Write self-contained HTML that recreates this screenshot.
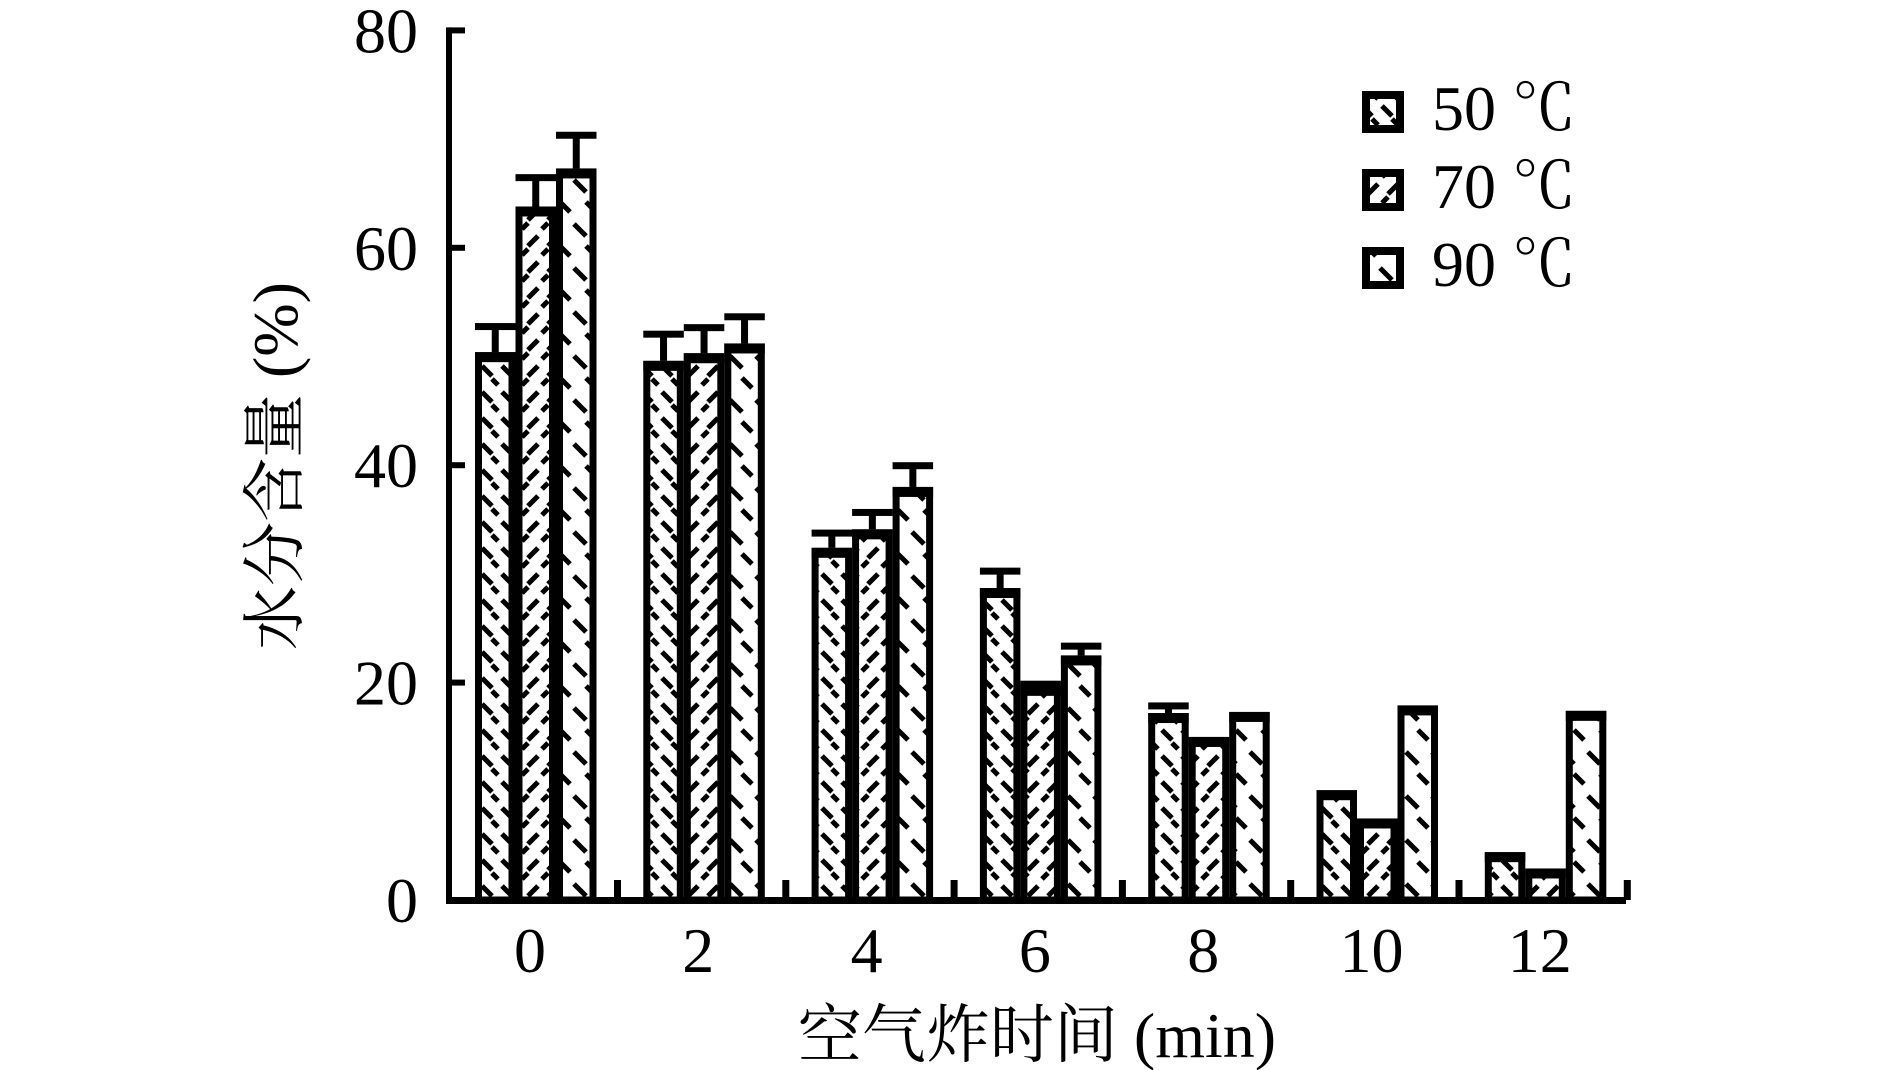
<!DOCTYPE html>
<html><head><meta charset="utf-8"><style>
html,body{margin:0;padding:0;background:#fff;}
svg{display:block;}
text{fill:#000;}
.num{font-family:"Liberation Serif","Noto Serif CJK SC",serif;font-size:64px;}
.ttl{font-family:"Liberation Serif","Noto Serif CJK SC",serif;font-size:64px;}
</style></head><body>
<svg id="chart" width="1890" height="1070" viewBox="0 0 1890 1070" xmlns="http://www.w3.org/2000/svg">
<defs>
<pattern id="p50" width="20" height="26" patternUnits="userSpaceOnUse">
<rect width="20" height="26" fill="#fff"/>
<path d="M2 2 L12 12 M12 15 L18 21" stroke="#000" stroke-width="5"/>
</pattern>
<pattern id="p70" width="20" height="26" patternUnits="userSpaceOnUse">
<rect width="20" height="26" fill="#fff"/>
<path d="M18 2 L8 12 M8 15 L2 21" stroke="#000" stroke-width="5"/>
</pattern>
<pattern id="p90" width="26" height="44" patternUnits="userSpaceOnUse">
<rect width="26" height="44" fill="#fff"/>
<path d="M2 4 L14 16 M14 26 L24 36" stroke="#000" stroke-width="5"/>
</pattern>
</defs>
<g id="bars"></g>
<g id="axes"></g>
<g id="legend"></g>
<text class="ttl" x="1037" y="1057" text-anchor="middle">空气炸时间 (min)</text>
<text class="ttl" transform="translate(297,466) rotate(-90)" text-anchor="middle">水分含量 (%)</text>
</svg>
<script>
const categories = ["0","2","4","6","8","10","12"];
const seriesNames = ["50 ℃","70 ℃","90 ℃"];
const s50 = [50.4, 49.6, 32.4, 28.7, 17.2, 10.1, 4.4];
const s70 = [63.8, 50.3, 34.1, 19.7, 15.0, 7.5, 2.9];
const s90 = [67.3, 51.2, 38.0, 22.5, 17.3, 17.9, 17.4];
const e50 = [2.4, 2.5, 1.4, 1.6, 0.7, 0, 0];
const e70 = [2.7, 2.4, 1.6, 0.2, 0, 0, 0];
const e90 = [3.1, 2.5, 2.0, 0.9, 0, 0, 0];
const yTicks = [0, 20, 40, 60, 80];

const NS = "http://www.w3.org/2000/svg";
const y0 = 900, yScale = 10.87;
function yPos(v){ return y0 - v*yScale; }
function groupLeft(i){ return 475 + 168.3*i; }
const bw = 40.5;
function mk(tag, attrs, parent){ const e=document.createElementNS(NS,tag); for(const k in attrs) e.setAttribute(k,attrs[k]); parent.appendChild(e); return e; }

const barsG = document.getElementById('bars');
const series = [s50, s70, s90];
const errs = [e50, e70, e90];
const pats = ["url(#p50)","url(#p70)","url(#p90)"];
categories.forEach((c,i)=>{
  series.forEach((s,j)=>{
    const x = groupLeft(i) + j*bw;
    const top = yPos(s[i]);
    const r = mk('rect',{x:x+3.5,y:top+3.5,width:bw-7,height:y0-top-3.5,fill:pats[j],stroke:'#000','stroke-width':7},barsG);
    
    
    const band = mk('rect',{x:x,y:top,width:bw,height:10,fill:'#000'},barsG);
    
    
    const e = errs[j][i];
    if(e>0){
      const et = yPos(s[i]+e);
      const w = mk('rect',{x:x+bw/2-3.5,y:et,width:7,height:top-et,fill:'#000'},barsG);
      
      
      const cap = mk('rect',{x:x,y:et-3,width:bw,height:7,fill:'#000'},barsG);
      
      
    }
  });
});

const axG = document.getElementById('axes');
const ya = mk('rect',{x:446,y:yPos(80)-3,width:6,height:y0-yPos(80)+6,fill:'#000'},axG);


const xa = mk('rect',{x:446,y:y0-3,width:1180,height:7,fill:'#000'},axG);


yTicks.forEach(v=>{
  const t = mk('rect',{x:449,y:yPos(v)-3,width:16,height:6,fill:'#000'},axG);
  
  
  const l = mk('text',{x:418,y:yPos(v)+22,'text-anchor':'end','class':'num'},axG);
  l.textContent = v;
  
  
});
categories.forEach((c,i)=>{
  const tx = 614 + 168.3*i;
  const t = mk('rect',{x:tx,y:y0-20,width:7,height:20,fill:'#000'},axG);
  
  
  const l = mk('text',{x:groupLeft(i)+55,y:972,'text-anchor':'middle','class':'num'},axG);
  l.textContent = c;
  
  
});

const lg = document.getElementById('legend');
seriesNames.forEach((n,j)=>{
  const yy = 91 + 78*j;
  const b = mk('rect',{x:1366,y:yy+4,width:34,height:34,fill:pats[j],stroke:'#000','stroke-width':8},lg);
  
  
  const t = mk('text',{x:1432,y:yy+39,'class':'num'},lg);
  t.textContent = n.split(' ')[0];
  
  
  const u = mk('text',{x:1512,y:yy+39,'class':'num'},lg);
  u.textContent = '℃';
  
  
});
</script>
</body></html>
